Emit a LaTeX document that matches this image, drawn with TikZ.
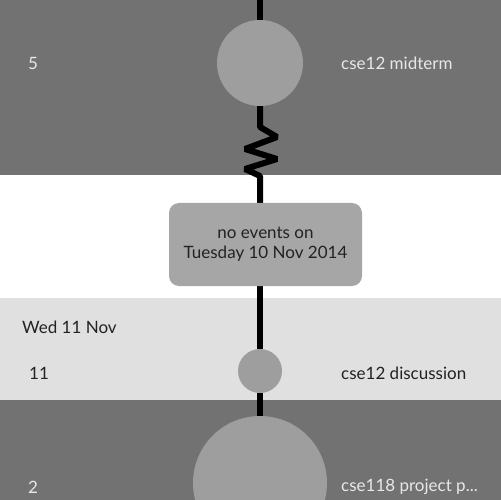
\documentclass[tikz,border=0pt]{standalone}
\usepackage{fontspec}
\setmainfont{Lato}
\usetikzlibrary{backgrounds}

\definecolor{darkband}{HTML}{727272}
\definecolor{lightband}{HTML}{E0E0E0}
\definecolor{dotgray}{HTML}{9E9E9E}
\definecolor{boxgray}{HTML}{A6A6A6}
\definecolor{pale}{HTML}{E8E8E8}
\definecolor{ink}{HTML}{222222}

\tikzset{
  dot/.style={circle,fill=dotgray,inner sep=0pt},
  label text/.style={inner sep=0pt,anchor=west,font=\fontsize{17}{20}\selectfont},
  timeline/.style={line width=6pt,black}
}

\begin{document}
\begin{tikzpicture}[x=1pt,y=-1pt]
        \useasboundingbox (0,0) rectangle (501,500);

        \node[dot,minimum size=86pt] (midterm) at (260,63) {};
        \node[dot,minimum size=44pt] (discussion) at (260,371) {};
        \node[dot,minimum size=134pt] (project) at (260,483) {};

        \node[fill=boxgray,rounded corners=10pt,minimum width=193pt,minimum height=83pt,
              align=center,text=ink,font=\fontsize{17}{20}\selectfont] (noevents) at (265.5,244.5)
              {no events on\\Tuesday 10 Nov 2014};

        \coordinate (top) at (260,0);

        \node[label text,text=pale] (hour1) at (28,63) {5};
        \node[label text,text=pale] (title1) at (341,63) {cse12 midterm};

        \node[label text,text=ink] (day) at (22,327) {Wed 11 Nov};
        \node[label text,text=ink] (hour2) at (29,373) {11};
        \node[label text,text=ink] (title2) at (341,373) {cse12 discussion};

        \node[label text,text=pale] (hour3) at (28,487) {2};
        \node[label text,text=pale] (title3) at (341,487) {cse118 project p...};

        \begin{scope}[on background layer]
        \fill[darkband] (0,0) rectangle (501,175);
        \fill[lightband] (0,298) rectangle (501,400);
        \fill[darkband] (0,400) rectangle (501,500);

        \draw[timeline] (top) -- (midterm);
        % squiggle for the skipped day
        \draw[timeline,line join=bevel] (midterm.south) -- (260,127) -- (277,137) -- (245,149)
              -- (277,159) -- (245,169) -- (260,176) -- (noevents.north -| top);
        \draw[timeline] (noevents.south -| top) -- (discussion);
        \draw[timeline] (discussion) -- (project);
        \end{scope}
\end{tikzpicture}
\end{document}
